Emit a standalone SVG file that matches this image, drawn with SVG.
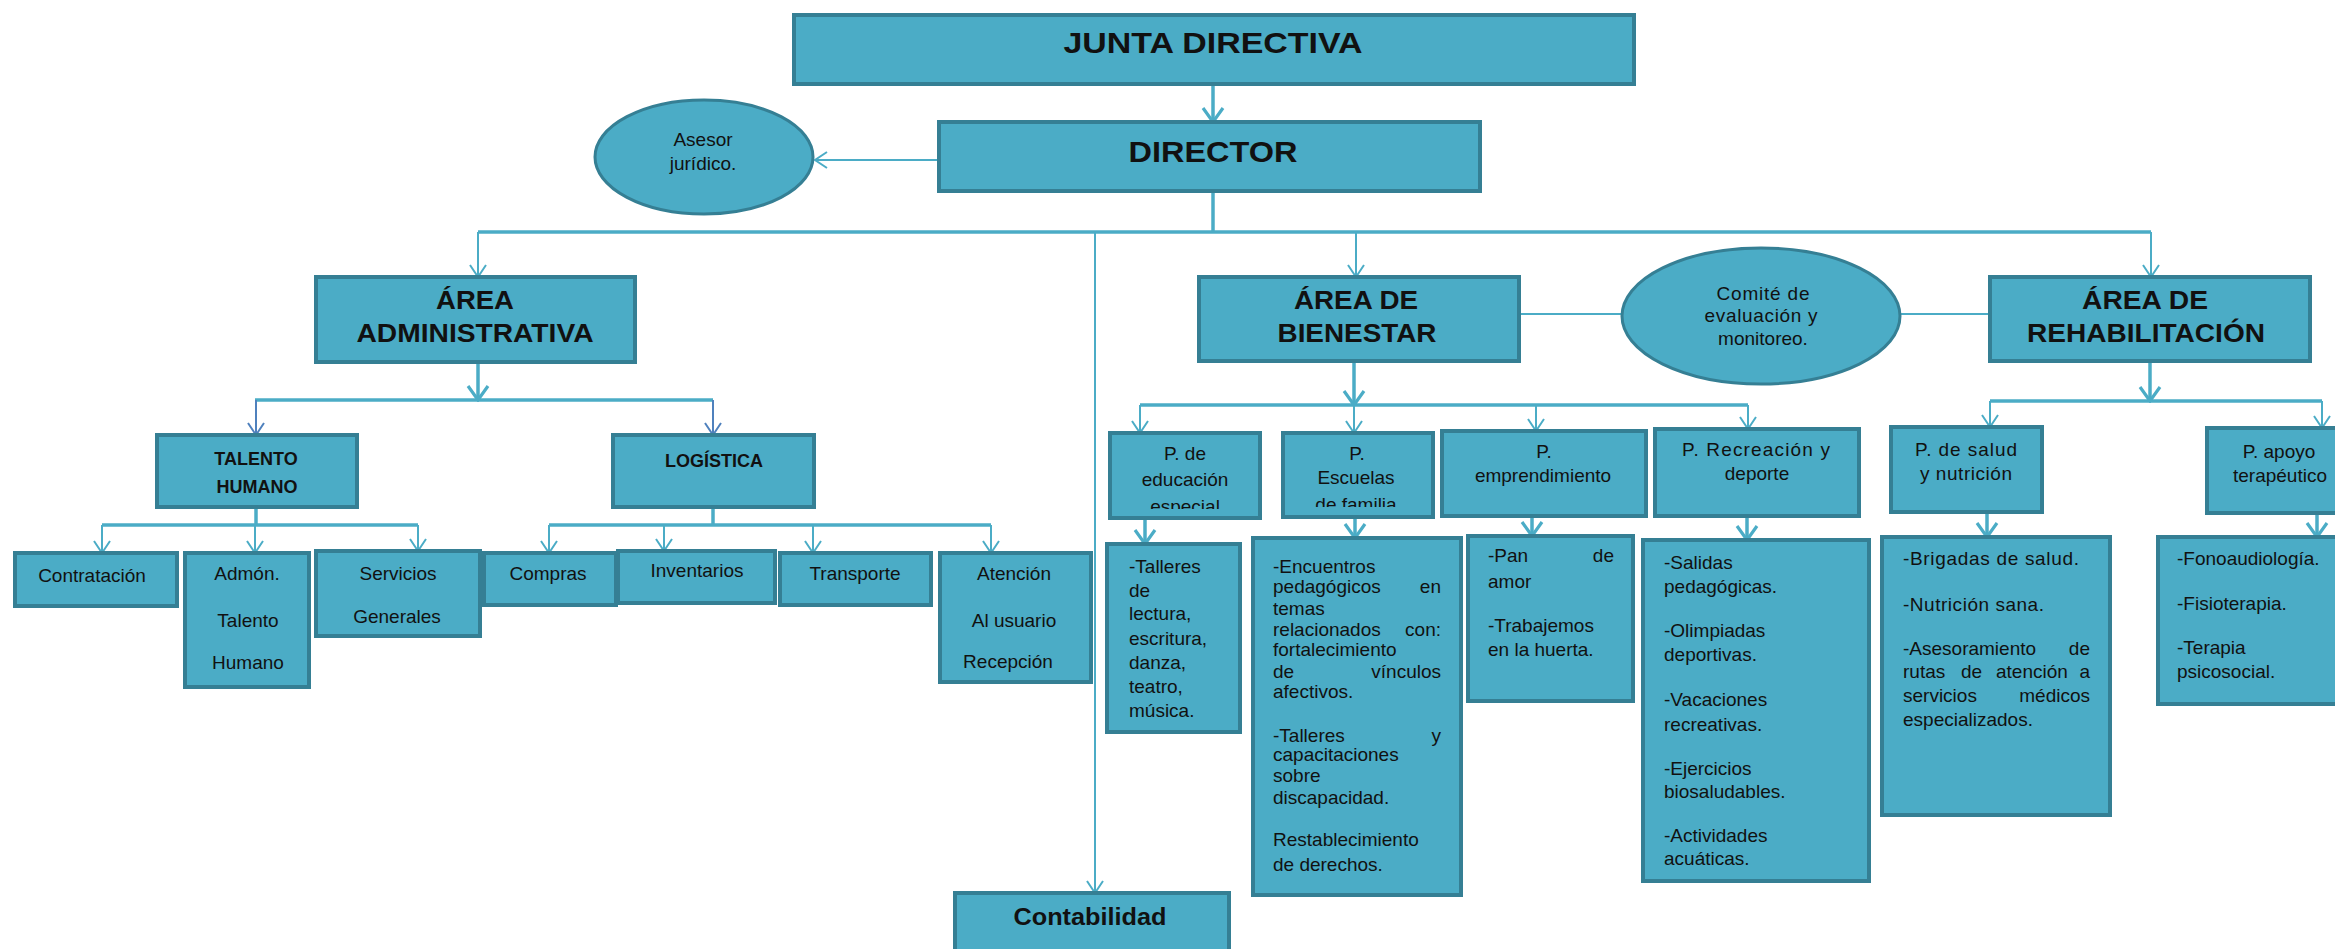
<svg xmlns="http://www.w3.org/2000/svg" width="2335" height="949" viewBox="0 0 2335 949">
<style>
.box{fill:#4bacc6;stroke:#357f94;stroke-width:4}
.ell{fill:#4bacc6;stroke:#357f94;stroke-width:3}
.t{font-family:"Liberation Sans",Arial,sans-serif;font-size:19px;fill:#111}
.b{font-weight:bold}
.c{text-anchor:middle}
.e{text-anchor:end}
.h{font-size:25px}
.big{font-size:30px}
.s18{font-size:18px}
.s23{font-size:23px}
.ln{stroke:#4bacc6;fill:none;stroke-width:2}
.tk{stroke:#4bacc6;fill:none;stroke-width:3.5}
.bl{stroke:#4f81bd;fill:none;stroke-width:2}
</style>
<defs>
<marker id="ak" viewBox="-16 -12 18 24" markerWidth="18" markerHeight="24" refX="0" refY="0" orient="auto" markerUnits="userSpaceOnUse"><path d="M-14,-10 L0,0 L-14,10" fill="none" stroke="#4bacc6" stroke-width="3.2"/></marker>
<marker id="an" viewBox="-14 -10 16 20" markerWidth="16" markerHeight="20" refX="0" refY="0" orient="auto" markerUnits="userSpaceOnUse"><path d="M-12,-8 L0,0 L-12,8" fill="none" stroke="#4bacc6" stroke-width="2"/></marker>
<marker id="ab" viewBox="-14 -10 16 20" markerWidth="16" markerHeight="20" refX="0" refY="0" orient="auto" markerUnits="userSpaceOnUse"><path d="M-12,-8 L0,0 L-12,8" fill="none" stroke="#4f81bd" stroke-width="2"/></marker>
<clipPath id="cEdu"><rect x="1110" y="433" width="150" height="76"/></clipPath>
<clipPath id="cEsc"><rect x="1283" y="433" width="150" height="74"/></clipPath>
</defs>

<g id="connectors">
<line class="tk" x1="1213" y1="84" x2="1213" y2="122" marker-end="url(#ak)"/>
<line class="ln" x1="939" y1="160" x2="815" y2="160" marker-end="url(#an)"/>
<line class="tk" x1="1213" y1="191" x2="1213" y2="232"/>
<line class="tk" x1="478" y1="232" x2="2151" y2="232"/>
<line class="ln" x1="478" y1="232" x2="478" y2="277" marker-end="url(#an)"/>
<line class="ln" x1="1095" y1="232" x2="1095" y2="893" marker-end="url(#an)"/>
<line class="ln" x1="1356" y1="232" x2="1356" y2="277" marker-end="url(#an)"/>
<line class="ln" x1="2151" y1="232" x2="2151" y2="277" marker-end="url(#an)"/>
<line class="ln" x1="1519" y1="314" x2="1622" y2="314"/>
<line class="ln" x1="1900" y1="314" x2="1990" y2="314"/>
<line class="tk" x1="478" y1="362" x2="478" y2="400" marker-end="url(#ak)"/>
<line class="tk" x1="255" y1="400" x2="713" y2="400"/>
<line class="bl" x1="256" y1="400" x2="256" y2="435" marker-end="url(#ab)"/>
<line class="bl" x1="713" y1="400" x2="713" y2="435" marker-end="url(#ab)"/>
<line class="tk" x1="256" y1="507" x2="256" y2="525"/>
<line class="tk" x1="102" y1="525" x2="418" y2="525"/>
<line class="ln" x1="102" y1="525" x2="102" y2="553" marker-end="url(#an)"/>
<line class="ln" x1="255" y1="525" x2="255" y2="553" marker-end="url(#an)"/>
<line class="ln" x1="418" y1="525" x2="418" y2="551" marker-end="url(#an)"/>
<line class="tk" x1="713" y1="507" x2="713" y2="525"/>
<line class="tk" x1="549" y1="525" x2="991" y2="525"/>
<line class="ln" x1="549" y1="525" x2="549" y2="553" marker-end="url(#an)"/>
<line class="ln" x1="664" y1="525" x2="664" y2="551" marker-end="url(#an)"/>
<line class="ln" x1="813" y1="525" x2="813" y2="553" marker-end="url(#an)"/>
<line class="ln" x1="991" y1="525" x2="991" y2="553" marker-end="url(#an)"/>
<line class="tk" x1="1354" y1="361" x2="1354" y2="405" marker-end="url(#ak)"/>
<line class="tk" x1="1140" y1="405" x2="1748" y2="405"/>
<line class="ln" x1="1140" y1="405" x2="1140" y2="433" marker-end="url(#an)"/>
<line class="ln" x1="1354" y1="405" x2="1354" y2="433" marker-end="url(#an)"/>
<line class="ln" x1="1536" y1="405" x2="1536" y2="431" marker-end="url(#an)"/>
<line class="ln" x1="1748" y1="405" x2="1748" y2="429" marker-end="url(#an)"/>
<line class="tk" x1="2150" y1="361" x2="2150" y2="401" marker-end="url(#ak)"/>
<line class="tk" x1="1990" y1="401" x2="2322" y2="401"/>
<line class="ln" x1="1990" y1="401" x2="1990" y2="427" marker-end="url(#an)"/>
<line class="ln" x1="2322" y1="401" x2="2322" y2="428" marker-end="url(#an)"/>
<line class="tk" x1="1145" y1="518" x2="1145" y2="544" marker-end="url(#ak)"/>
<line class="tk" x1="1355" y1="517" x2="1355" y2="538" marker-end="url(#ak)"/>
<line class="tk" x1="1532" y1="516" x2="1532" y2="536" marker-end="url(#ak)"/>
<line class="tk" x1="1747" y1="516" x2="1747" y2="540" marker-end="url(#ak)"/>
<line class="tk" x1="1987" y1="512" x2="1987" y2="537" marker-end="url(#ak)"/>
<line class="tk" x1="2317" y1="513" x2="2317" y2="537" marker-end="url(#ak)"/>
</g>

<g id="junta"><rect class="box" x="794" y="15" width="840" height="69"/>
<text class="t b c big" x="1213" y="53" textLength="299" lengthAdjust="spacingAndGlyphs">JUNTA DIRECTIVA</text></g>

<g id="director"><rect class="box" x="939" y="122" width="541" height="69"/>
<text class="t b c big" x="1213" y="162" textLength="169" lengthAdjust="spacingAndGlyphs">DIRECTOR</text></g>

<g id="asesor"><ellipse class="ell" cx="704" cy="157" rx="109" ry="57"/>
<text class="t c" x="703" y="146">Asesor</text>
<text class="t c" x="703" y="170">jurídico.</text></g>

<g id="area-admin"><rect class="box" x="316" y="277" width="319" height="85"/>
<text class="t b c h" x="475" y="309" textLength="78" lengthAdjust="spacingAndGlyphs">ÁREA</text>
<text class="t b c h" x="475" y="342" textLength="237" lengthAdjust="spacingAndGlyphs">ADMINISTRATIVA</text></g>

<g id="area-bienestar"><rect class="box" x="1199" y="277" width="320" height="84"/>
<text class="t b c h" x="1356" y="309" textLength="124" lengthAdjust="spacingAndGlyphs">ÁREA DE</text>
<text class="t b c h" x="1357" y="342" textLength="159" lengthAdjust="spacingAndGlyphs">BIENESTAR</text></g>

<g id="comite"><ellipse class="ell" cx="1761" cy="316" rx="139" ry="68"/>
<text class="t c" x="1763" y="300" textLength="93">Comité de</text>
<text class="t c" x="1761" y="322" textLength="113">evaluación  y</text>
<text class="t c" x="1763" y="345">monitoreo.</text></g>

<g id="area-rehab"><rect class="box" x="1990" y="277" width="320" height="84"/>
<text class="t b c h" x="2145" y="309" textLength="126" lengthAdjust="spacingAndGlyphs">ÁREA DE</text>
<text class="t b c h" x="2146" y="342" textLength="238" lengthAdjust="spacingAndGlyphs">REHABILITACIÓN</text></g>

<g id="talento"><rect class="box" x="157" y="435" width="200" height="72"/>
<text class="t b c s18" x="256" y="465">TALENTO</text>
<text class="t b c s18" x="257" y="493">HUMANO</text></g>

<g id="logistica"><rect class="box" x="613" y="435" width="201" height="72"/>
<text class="t b c s18" x="714" y="467">LOGÍSTICA</text></g>

<g id="contratacion"><rect class="box" x="15" y="553" width="162" height="53"/>
<text class="t c" x="92" y="582">Contratación</text></g>

<g id="admon"><rect class="box" x="185" y="553" width="124" height="134"/>
<text class="t c" x="247" y="580">Admón.</text>
<text class="t c" x="248" y="627">Talento</text>
<text class="t c" x="248" y="669">Humano</text></g>

<g id="servicios"><rect class="box" x="316" y="551" width="164" height="85"/>
<text class="t c" x="398" y="580">Servicios</text>
<text class="t c" x="397" y="623">Generales</text></g>

<g id="compras"><rect class="box" x="484" y="553" width="132" height="52"/>
<text class="t c" x="548" y="580">Compras</text></g>

<g id="inventarios"><rect class="box" x="618" y="551" width="157" height="52"/>
<text class="t c" x="697" y="577">Inventarios</text></g>

<g id="transporte"><rect class="box" x="780" y="553" width="151" height="52"/>
<text class="t c" x="855" y="580">Transporte</text></g>

<g id="atencion"><rect class="box" x="940" y="553" width="151" height="129"/>
<text class="t c" x="1014" y="580">Atención</text>
<text class="t c" x="1014" y="627">Al usuario</text>
<text class="t c" x="1008" y="668">Recepción</text></g>

<g id="contabilidad"><rect class="box" x="955" y="893" width="274" height="70"/>
<text class="t b c s23" x="1090" y="925" textLength="153" lengthAdjust="spacingAndGlyphs">Contabilidad</text></g>

<g id="p-educacion"><rect class="box" x="1110" y="433" width="150" height="85"/>
<text class="t c" x="1185" y="460">P. de</text>
<text class="t c" x="1185" y="486">educación</text>
<text class="t c" x="1185" y="513" clip-path="url(#cEdu)">especial</text></g>

<g id="p-escuelas"><rect class="box" x="1283" y="433" width="150" height="84"/>
<text class="t c" x="1357" y="460">P.</text>
<text class="t c" x="1356" y="484">Escuelas</text>
<text class="t c" x="1356" y="511" clip-path="url(#cEsc)">de  familia</text></g>

<g id="p-emprendimiento"><rect class="box" x="1442" y="431" width="204" height="85"/>
<text class="t c" x="1544" y="458">P.</text>
<text class="t c" x="1543" y="482">emprendimiento</text></g>

<g id="p-recreacion"><rect class="box" x="1655" y="429" width="204" height="87"/>
<text class="t c" x="1756" y="456" textLength="148">P. Recreación  y</text>
<text class="t c" x="1757" y="480">deporte</text></g>

<g id="p-salud"><rect class="box" x="1891" y="427" width="151" height="85"/>
<text class="t c" x="1966" y="456" textLength="102">P. de  salud</text>
<text class="t c" x="1966" y="480" textLength="92">y  nutrición</text></g>

<g id="p-apoyo"><rect class="box" x="2207" y="428" width="160" height="85"/>
<text class="t c" x="2279" y="458">P. apoyo</text>
<text class="t c" x="2280" y="482">terapéutico</text></g>

<g id="educacion-detalle"><rect class="box" x="1107" y="544" width="133" height="188"/>
<text class="t" x="1129" y="573">-Talleres</text>
<text class="t" x="1129" y="597">de</text>
<text class="t" x="1129" y="620">lectura,</text>
<text class="t" x="1129" y="645">escritura,</text>
<text class="t" x="1129" y="669">danza,</text>
<text class="t" x="1129" y="693">teatro,</text>
<text class="t" x="1129" y="717">música.</text></g>

<g id="escuelas-detalle"><rect class="box" x="1253" y="538" width="208" height="357"/>
<text class="t" x="1273" y="573">-Encuentros</text>
<text class="t" x="1273" y="593">pedagógicos</text><text class="t e" x="1441" y="593">en</text>
<text class="t" x="1273" y="615">temas</text>
<text class="t" x="1273" y="636">relacionados</text><text class="t e" x="1441" y="636">con:</text>
<text class="t" x="1273" y="656">fortalecimiento</text>
<text class="t" x="1273" y="678">de</text><text class="t e" x="1441" y="678">vínculos</text>
<text class="t" x="1273" y="698">afectivos.</text>
<text class="t" x="1273" y="742">-Talleres</text><text class="t e" x="1441" y="742">y</text>
<text class="t" x="1273" y="761">capacitaciones</text>
<text class="t" x="1273" y="782">sobre</text>
<text class="t" x="1273" y="804">discapacidad.</text>
<text class="t" x="1273" y="846">Restablecimiento</text>
<text class="t" x="1273" y="871">de  derechos.</text></g>

<g id="emprendimiento-detalle"><rect class="box" x="1468" y="536" width="165" height="165"/>
<text class="t" x="1488" y="562">-Pan</text><text class="t e" x="1614" y="562">de</text>
<text class="t" x="1488" y="588">amor</text>
<text class="t" x="1488" y="632">-Trabajemos</text>
<text class="t" x="1488" y="656">en  la huerta.</text></g>

<g id="recreacion-detalle"><rect class="box" x="1643" y="540" width="226" height="341"/>
<text class="t" x="1664" y="569">-Salidas</text>
<text class="t" x="1664" y="593">pedagógicas.</text>
<text class="t" x="1664" y="637">-Olimpiadas</text>
<text class="t" x="1664" y="661">deportivas.</text>
<text class="t" x="1664" y="706">-Vacaciones</text>
<text class="t" x="1664" y="731">recreativas.</text>
<text class="t" x="1664" y="775">-Ejercicios</text>
<text class="t" x="1664" y="798">biosaludables.</text>
<text class="t" x="1664" y="842">-Actividades</text>
<text class="t" x="1664" y="865">acuáticas.</text></g>

<g id="salud-detalle"><rect class="box" x="1882" y="537" width="228" height="278"/>
<text class="t" x="1903" y="565" textLength="176">-Brigadas  de  salud.</text>
<text class="t" x="1903" y="611" textLength="141">-Nutrición  sana.</text>
<text class="t" x="1903" y="655">-Asesoramiento</text><text class="t e" x="2090" y="655">de</text>
<text class="t" x="1903" y="678">rutas</text><text class="t" x="1961" y="678">de</text><text class="t" x="1996" y="678">atención</text><text class="t e" x="2090" y="678">a</text>
<text class="t" x="1903" y="702">servicios</text><text class="t e" x="2090" y="702">médicos</text>
<text class="t" x="1903" y="726">especializados.</text></g>

<g id="apoyo-detalle"><rect class="box" x="2158" y="537" width="200" height="167"/>
<text class="t" x="2177" y="565">-Fonoaudiología.</text>
<text class="t" x="2177" y="610">-Fisioterapia.</text>
<text class="t" x="2177" y="654">-Terapia</text>
<text class="t" x="2177" y="678">psicosocial.</text></g>
</svg>
